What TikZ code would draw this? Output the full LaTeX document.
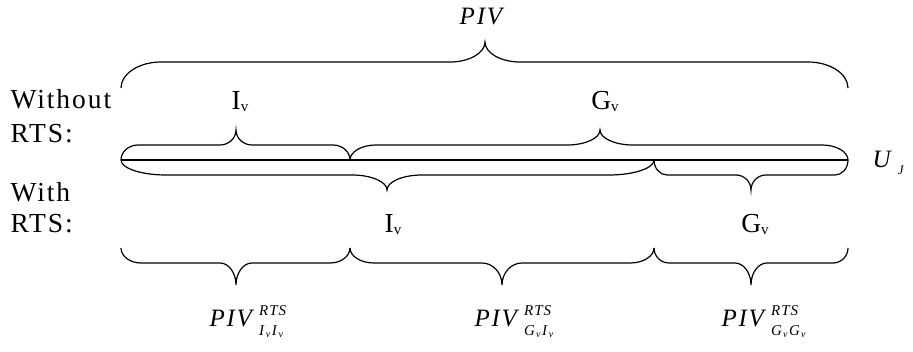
\documentclass[tikz,border=0pt]{standalone}
\usepackage{amsmath}
\usepackage{fontspec}
\setmainfont{Liberation Serif}[LetterSpace=7]
\newcommand\drawbrc[8]{%
  \draw (#1,#4) .. controls (#1,{#4+0.55*(#5-#4)}) and ({#1+0.45*#7},#5) .. ({#1+#7},#5)
    -- ({#3-#8},#5) .. controls ({#3-0.45*#8},#5) and (#3,{#6-0.55*(#6-#5)}) .. (#3,#6)
    .. controls (#3,{#6-0.55*(#6-#5)}) and ({#3+0.45*#8},#5) .. ({#3+#8},#5)
    -- ({#2-#7},#5) .. controls ({#2-0.45*#7},#5) and (#2,{#4+0.55*(#5-#4)}) .. (#2,#4);}
\newcommand\Iv{I\raisebox{-1.5pt}{\fontsize{15}{15}\selectfont v}}
\newcommand\Gv{G\raisebox{-1.5pt}{\fontsize{15}{15}\selectfont v}}
\newcommand\ssub[1]{\textit{#1}\raisebox{-2pt}{\fontsize{10}{10}\selectfont\textit{v}}}
\newcommand\pivlbl[2]{\textit{PIV}\kern3pt\rlap{\raisebox{11pt}{\fontsize{15}{15}\selectfont\textit{RTS}}}\raisebox{-9pt}{\fontsize{15}{15}\selectfont\ssub{#1}\kern1pt\ssub{#2}}}
\begin{document}
\begin{tikzpicture}[x=1pt,y=-1pt,line width=1.2pt,
  lbl/.style={inner sep=0pt,font=\fontsize{27.5}{30}\selectfont},
  piv/.style={inner sep=0pt,font=\fontsize{25}{28}\selectfont}]
\useasboundingbox (0,0) rectangle (913,352);
% base line
\coordinate (L) at (121,160);
\coordinate (R) at (848,160);
\draw (L) -- (R);
% top brace
\drawbrc{121}{848}{485}{88}{62}{42}{40}{35}
% above line
\drawbrc{121}{350}{236}{160}{145}{130}{17}{16}
\drawbrc{350}{848}{600}{160}{145}{130}{26}{33}
% below line
\drawbrc{121}{654}{387}{160}{175}{190}{45}{35}
\drawbrc{654}{848}{751}{160}{175}{190}{13}{15}
% bottom braces
\drawbrc{121}{350}{236}{248}{263}{285}{20}{16}
\drawbrc{350}{654}{502}{248}{263}{285}{24}{20}
\drawbrc{654}{848}{751}{248}{263}{285}{15}{16}
% labels
\node[piv,anchor=base] (piv) at (483,25) {\textit{PIV}};
\node[lbl,anchor=base west] (wo) at (10,109) {Without};
\node[lbl,anchor=base west] (rts1) at (10,143) {RTS:};
\node[lbl,anchor=base] (iv1) at (240,110) {\Iv};
\node[lbl,anchor=base] (gv1) at (605,110) {\Gv};
\node[piv,anchor=base west] (uj) at (872,168) {\textit{U}\kern4pt\raisebox{-7pt}{\fontsize{13}{13}\selectfont\textit{J}}};
\node[lbl,anchor=base west] (wi) at (10,202) {With};
\node[lbl,anchor=base west] (rts2) at (10,233) {RTS:};
\node[lbl,anchor=base] (iv2) at (393,233) {\Iv};
\node[lbl,anchor=base] (gv2) at (755,233) {\Gv};
\node[piv,anchor=base west] (p1) at (209,327) {\pivlbl{I}{I}};
\node[piv,anchor=base west] (p2) at (474,327) {\pivlbl{G}{I}};
\node[piv,anchor=base west] (p3) at (721,327) {\pivlbl{G}{G}};
\end{tikzpicture}
\end{document}
